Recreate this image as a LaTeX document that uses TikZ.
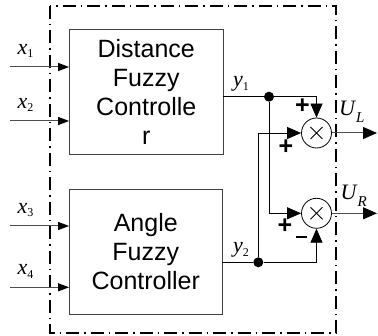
\documentclass[tikz,border=0pt]{standalone}
\usepackage{fontspec}
\setmainfont{Liberation Sans}
\newfontfamily\lserif{Liberation Serif}
\usetikzlibrary{arrows.meta}
\newcommand\sublab[2]{{\lserif\fontsize{22}{22}\selectfont\itshape #1}\raisebox{-3.5pt}{\lserif\fontsize{12}{12}\selectfont #2}}
\newcommand\outlab[2]{{\lserif\fontsize{22}{22}\selectfont\itshape #1}\kern1pt\raisebox{-7pt}{\lserif\fontsize{15}{15}\selectfont\itshape #2}}
\tikzset{
  ctrl/.style={draw=black!75, line width=0.8pt, rectangle, inner sep=0pt, align=center,
    font=\fontsize{25}{29}\selectfont},
  inarrow/.style={draw=black!70, line width=1pt, -{Triangle[length=11pt,width=8pt,color=black]}},
  sig/.style={draw=black, line width=0.8pt},
  sigarrow/.style={sig, -{Triangle[length=14pt,width=12pt]}},
  outarrow/.style={draw=black!70, line width=1pt, -{Triangle[length=14pt,width=12pt,color=black]}},
  mult/.style={draw=black, line width=0.8pt, circle, minimum size=30pt, inner sep=0pt},
  dot/.style={fill=black, circle, minimum size=10pt, inner sep=0pt},
  lab/.style={anchor=base west, inner sep=0pt},
  sign/.style={inner sep=0pt, font=\fontsize{25}{25}\selectfont\bfseries},
  frame/.style={line width=1.5pt, dash pattern=on 13pt off 5pt on 1.5pt off 5pt}
}
\begin{document}
\begin{tikzpicture}[x=1pt,y=-1pt]
\useasboundingbox (0,0) rectangle (378,336);
% frame
\draw[frame] (50,6) rectangle (336,333);
% controllers
\node[ctrl, minimum width=153.5pt, minimum height=125pt] (b1) at (146.25,91.5)
  {Distance\\Fuzzy\\Controlle\\r};
\node[ctrl, minimum width=152.5pt, minimum height=124.7pt] (b2) at (145.75,251.65)
  {Angle\\Fuzzy\\Controller};
% inputs
\coordinate (i1) at (10,67);
\coordinate (i2) at (10,121);
\coordinate (i3) at (10,226);
\coordinate (i4) at (10,287.3);
\draw[inarrow] (i1) -- (i1 -| b1.west);
\draw[inarrow] (i2) -- (i2 -| b1.west);
\draw[inarrow] (i3) -- (i3 -| b2.west);
\draw[inarrow] (i4) -- (i4 -| b2.west);
\node[lab] (lx1) at (17.5,54.5) {\sublab{x}{1}};
\node[lab] (lx2) at (17.5,108.5) {\sublab{x}{2}};
\node[lab] (lx3) at (17.5,213.5) {\sublab{x}{3}};
\node[lab] (lx4) at (17.5,274.8) {\sublab{x}{4}};
% multipliers
\node[mult] (m1) at (316.5,133) {};
\node[mult] (m2) at (316.5,213.3) {};
\foreach \m in {m1,m2}{
  \draw[line width=0.8pt] ([shift={(-6pt,-6pt)}]\m.center) -- ([shift={(6pt,6pt)}]\m.center);
  \draw[line width=0.8pt] ([shift={(-6pt,6pt)}]\m.center) -- ([shift={(6pt,-6pt)}]\m.center);
}
% dots
\node[dot] (d1) at (269,96.7) {};
\node[dot] (d2) at (258.3,262.3) {};
% signal lines
\draw[sig] (d1 -| b1.east) -- (d1);
\draw[sigarrow] (d1) -- (d1 -| m1.north) -- (m1.north);
\draw[sigarrow] (d1) -- (d1 |- m2.west) -- (m2.west);
\draw[sig] (d2 -| b2.east) -- (d2);
\draw[sigarrow] (d2) -- (d2 -| m2.south) -- (m2.south);
\draw[sigarrow] (d2) -- (d2 |- m1.west) -- (m1.west);
\node[lab] (ly1) at (233,87) {\sublab{y}{1}};
\node[lab] (ly2) at (233,253) {\sublab{y}{2}};
% outputs
\coordinate (o1) at (377,133);
\coordinate (o2) at (377,213.3);
\draw[outarrow] (m1.east) -- (o1);
\draw[outarrow] (m2.east) -- (o2);
\node[lab] (ul) at (339,116) {\outlab{U}{L}};
\node[lab] (ur) at (340.5,200) {\outlab{U}{R}};
% signs
\node[sign] (s1) at (302.5,106) {+};
\node[sign] (s2) at (286,147) {+};
\node[sign] (s3) at (285,226) {+};
\node[inner sep=0pt] (s4) at (301.7,237.3) {\rule{11pt}{1.8pt}};
\end{tikzpicture}
\end{document}
